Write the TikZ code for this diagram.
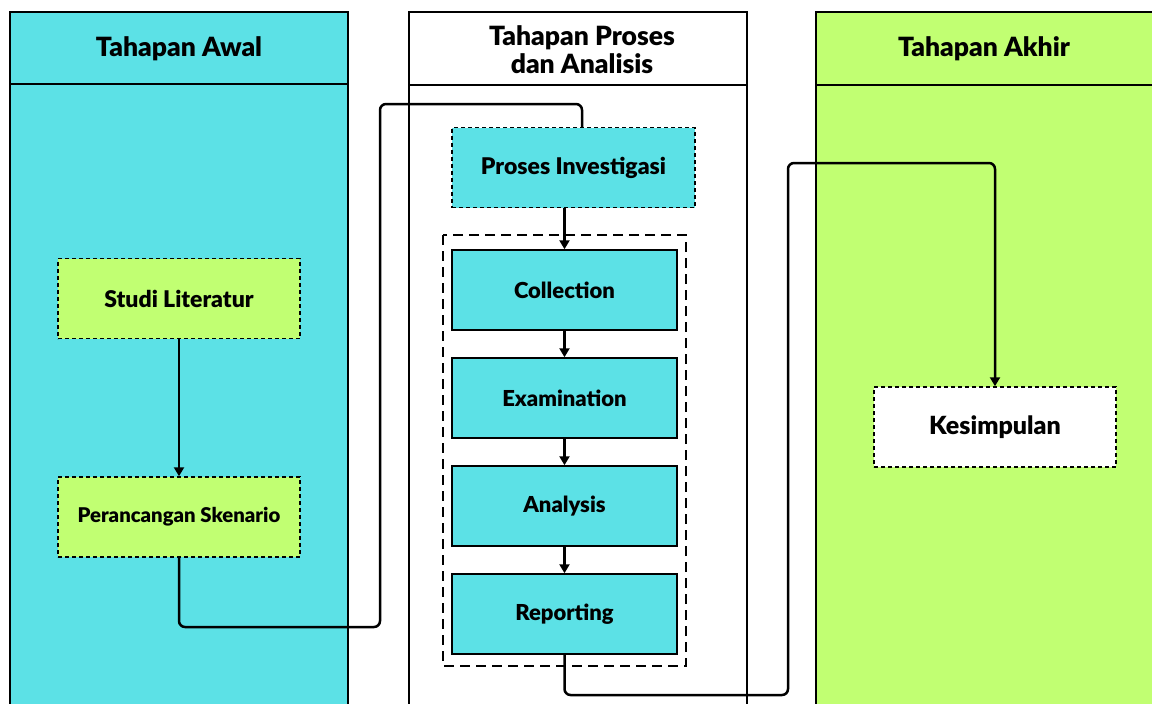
\documentclass[tikz,border=0pt]{standalone}
\usepackage{fontspec}
\setmainfont{Lato}[BoldFont={Lato Black}]
\usetikzlibrary{arrows.meta}
\definecolor{cy}{HTML}{5CE1E6}
\definecolor{gr}{HTML}{C1FF72}
\tikzset{
  lane/.style={draw=black, line width=2pt},
  hdr/.style={font=\bfseries\fontsize{26.5}{28}\selectfont, align=center},
  dbox/.style={draw=black, line width=1.5pt, dash pattern=on 4pt off 3pt, minimum width=242pt, minimum height=80pt, inner sep=0pt, font=\bfseries\fontsize{22}{25}\selectfont},
  sbox/.style={draw=black, line width=1.5pt, fill=cy, minimum width=225pt, minimum height=80pt, inner sep=0pt, font=\bfseries\fontsize{22}{25}\selectfont},
  grp/.style={draw=black, line width=2pt, dash pattern=on 10pt off 6pt},
  conn/.style={draw=black, line width=2.5pt, rounded corners=6pt},
  arr/.style={-{Triangle[width=10pt,length=9pt]}}
}
\begin{document}
\begin{tikzpicture}[x=1pt,y=-1pt]
\useasboundingbox (0,0) rectangle (1152,704);
\clip (0,0) rectangle (1152,704);
% lanes
\fill[cy] (10,12) rectangle (348,710);
\draw[lane] (10,720) -- (10,12) -- (348,12) -- (348,720);
\draw[lane] (10,84) -- (348,84);
\draw[lane] (409,720) -- (409,12) -- (747,12) -- (747,720);
\draw[lane] (409,85) -- (747,85);
\fill[gr] (816,12) rectangle (1160,710);
\draw[lane] (816,720) -- (816,12) -- (1160,12);
\draw[lane] (816,85) -- (1160,85);
\node[hdr] (h1) at (179,49) {Tahapan Awal};
\node[hdr] (h2) at (582,50) {Tahapan Proses\\dan Analisis};
\node[hdr] (h3) at (984,49) {Tahapan Akhir};
% boxes
\node[dbox, fill=gr, font=\bfseries\fontsize{23}{25}\selectfont] (sl) at (179,298.5) {Studi Literatur};
\node[dbox, fill=gr, font=\bfseries\fontsize{20.3}{22}\selectfont] (ps) at (179,517) {Perancangan Skenario};
\node[dbox, fill=cy, minimum width=243pt, font=\bfseries\fontsize{23}{25}\selectfont] (pi) at (573.5,167.5) {Proses Investigasi};
\draw[grp] (443,235) rectangle (686,666);
\node[sbox] (co) at (564.5,290) {Collection};
\node[sbox] (ex) at (564.5,398) {Examination};
\node[sbox] (an) at (564.5,506) {Analysis};
\node[sbox] (re) at (564.5,614) {Reporting};
\node[dbox, fill=white, font=\bfseries\fontsize{25}{28}\selectfont] (ke) at (995,427) {Kesimpulan};
% connectors
\draw[conn, arr] (sl.south) -- (ps.north);
\draw[conn] (ps.south) -- (179,627) -- (380,627) -- (380,104) -- (582,104) -- (pi.north -| 582,0);
\draw[conn, arr] (pi.south -| co.north) -- (co.north);
\draw[conn, arr] (co.south) -- (ex.north);
\draw[conn, arr] (ex.south) -- (an.north);
\draw[conn, arr] (an.south) -- (re.north);
\draw[conn, arr] (re.south) -- (564.5,695) -- (788,695) -- (788,163) -- (995,163) -- (ke.north);
\end{tikzpicture}
\end{document}
